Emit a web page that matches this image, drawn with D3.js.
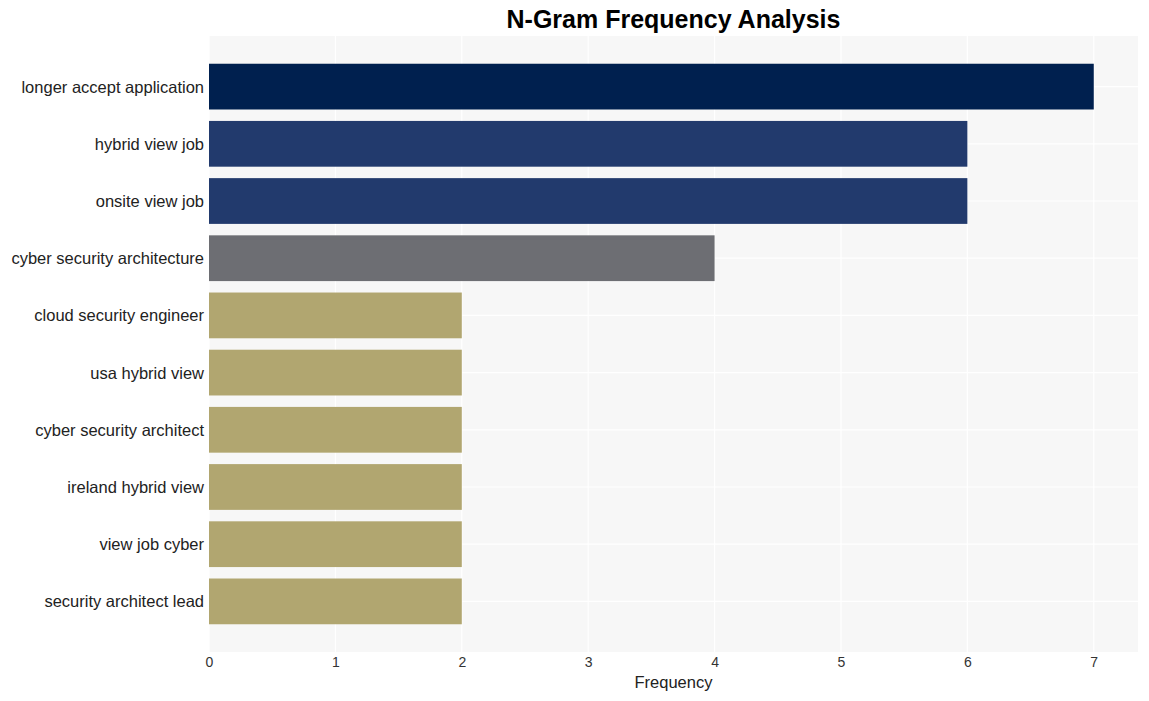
<!DOCTYPE html>
<html>
<head>
<meta charset="utf-8">
<script src="https://cdn.jsdelivr.net/npm/d3@7"></script>
<style>
  body { margin: 0; background: #fff; }
  text { font-family: Arial, "Liberation Sans", sans-serif; }
</style>
</head>
<body>
<svg id="chart" width="1149" height="701"></svg>
<script>
var terms = ["longer accept application", "hybrid view job", "onsite view job",
  "cyber security architecture", "cloud security engineer", "usa hybrid view",
  "cyber security architect", "ireland hybrid view", "view job cyber", "security architect lead"];
var counts = [7, 6, 6, 4, 2, 2, 2, 2, 2, 2];
var xTicks = [0, 1, 2, 3, 4, 5, 6, 7];

var MARGIN = { LEFT: 209, RIGHT: 11, TOP: 36, BOTTOM: 49 };
var width = 1149, height = 701;

// fill picked by count, like the reference palette
function barColor(v) {
  if (v >= 7) return "#00204f";
  if (v >= 6) return "#223a6d";
  if (v >= 4) return "#6d6e73";
  return "#b1a670";
}

var svg = d3.select("#chart");

var x = d3.scaleLinear()
  .domain([0, 7 * 1.05])
  .range([MARGIN.LEFT, width - MARGIN.RIGHT]);

var y = d3.scaleBand()
  .domain(terms)
  .range([MARGIN.TOP, height - MARGIN.BOTTOM])
  .paddingInner(0.2)
  .paddingOuter(0.485);

// panel background
svg.append("rect")
  .attr("x", MARGIN.LEFT)
  .attr("y", MARGIN.TOP)
  .attr("width", width - MARGIN.RIGHT - MARGIN.LEFT)
  .attr("height", height - MARGIN.BOTTOM - MARGIN.TOP)
  .attr("fill", "#f7f7f7");

// grid
svg.append("g").selectAll("line")
  .data(xTicks)
  .join("line")
  .attr("x1", d => x(d)).attr("x2", d => x(d))
  .attr("y1", MARGIN.TOP).attr("y2", height - MARGIN.BOTTOM)
  .attr("stroke", "#ffffff").attr("stroke-width", 1.2);

svg.append("g").selectAll("line")
  .data(terms)
  .join("line")
  .attr("x1", MARGIN.LEFT).attr("x2", width - MARGIN.RIGHT)
  .attr("y1", d => y(d) + y.bandwidth() / 2)
  .attr("y2", d => y(d) + y.bandwidth() / 2)
  .attr("stroke", "#ffffff").attr("stroke-width", 1.2);

// bars
svg.append("g").selectAll("rect")
  .data(terms)
  .join("rect")
  .attr("x", x(0))
  .attr("y", d => y(d))
  .attr("width", (d, i) => x(counts[i]) - x(0))
  .attr("height", y.bandwidth())
  .attr("fill", (d, i) => barColor(counts[i]));

// axes
var xAxis = svg.append("g")
  .attr("transform", "translate(0," + (height - MARGIN.BOTTOM) + ")")
  .call(d3.axisBottom(x).tickValues(xTicks).tickFormat(d3.format("d")).tickSize(0).tickPadding(5));
xAxis.select(".domain").remove();
xAxis.selectAll("text").style("font-size", "14px").attr("fill", "#333");

var yAxis = svg.append("g")
  .attr("transform", "translate(" + MARGIN.LEFT + ",0)")
  .call(d3.axisLeft(y).tickSize(0).tickPadding(5));
yAxis.select(".domain").remove();
yAxis.selectAll("text").style("font-size", "16.5px").attr("fill", "#222").attr("dy", "0.36em");

// titles
svg.append("text")
  .attr("x", (MARGIN.LEFT + width - MARGIN.RIGHT) / 2)
  .attr("y", 28)
  .attr("text-anchor", "middle")
  .attr("font-size", 25)
  .attr("font-weight", "bold")
  .attr("fill", "#000")
  .text("N-Gram Frequency Analysis");

svg.append("text")
  .attr("x", (MARGIN.LEFT + width - MARGIN.RIGHT) / 2)
  .attr("y", 688)
  .attr("text-anchor", "middle")
  .attr("font-size", 16.5)
  .attr("fill", "#222")
  .text("Frequency");
</script>
</body>
</html>
